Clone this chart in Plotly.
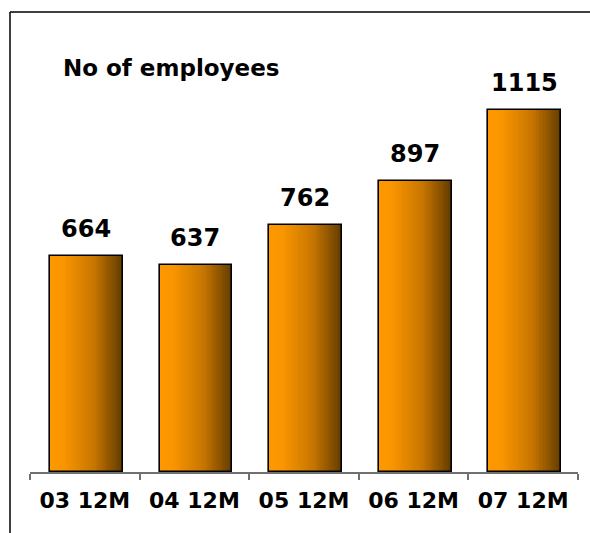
import plotly.graph_objects as go
import numpy as np

categories = ["03 12M", "04 12M", "05 12M", "06 12M", "07 12M"]
employees = [664, 637, 762, 897, 1115]
title_text = "No of employees"

# gradient stops (position across bar, rgb)
grad_pos = [0.0, 0.18, 0.6, 1.0]
grad_rgb = [(255, 153, 0), (250, 150, 0), (200, 118, 0), (98, 60, 0)]

BAR_W = 0.665
N = 40
FONT = "DejaVu Sans"

def color_at(t):
    r = np.interp(t, grad_pos, [c[0] for c in grad_rgb])
    g = np.interp(t, grad_pos, [c[1] for c in grad_rgb])
    b = np.interp(t, grad_pos, [c[2] for c in grad_rgb])
    return f"rgb({int(r)},{int(g)},{int(b)})"

fig = go.Figure()
sw = BAR_W / N
shift = 0.015
for k in range(N):
    t = (k + 0.5) / N
    fig.add_trace(go.Bar(
        x=categories, y=employees,
        width=sw * (1.6 if k < N - 1 else 1.0),
        offset=-BAR_W / 2 + shift + k * sw,
        marker=dict(color=color_at(t), line=dict(width=0)),
        hoverinfo="skip", showlegend=False,
    ))

# outline
fig.add_trace(go.Bar(
    x=categories, y=employees, width=BAR_W, offset=-BAR_W / 2 + shift,
    marker=dict(color="rgba(0,0,0,0)", line=dict(color="black", width=1.6)),
    showlegend=False,
))

for c, v in zip(categories, employees):
    fig.add_annotation(x=c, y=v, text=f"<b>{v}</b>", showarrow=False,
                       yanchor="bottom", yshift=11, xshift=1,
                       font=dict(family=FONT, size=24, color="black"))

fig.add_annotation(xref="paper", yref="paper", x=0.056, y=0.878,
                   xanchor="left", yanchor="middle", showarrow=False,
                   text=f"<b>{title_text}</b>",
                   font=dict(family=FONT, size=23, color="black"))

# frame lines (left and top)
fig.add_shape(type="line", xref="paper", yref="paper",
              x0=-0.0365, x1=-0.0365, y0=1.0, y1=-0.14,
              line=dict(color="black", width=1.5))
fig.add_shape(type="line", xref="paper", yref="paper",
              x0=-0.0365, x1=1.03, y0=1.0, y1=1.0,
              line=dict(color="black", width=1.5))

fig.update_layout(
    width=590, height=533,
    margin=dict(l=30, r=12, t=12, b=61),
    barmode="overlay", bargap=0,
    paper_bgcolor="white", plot_bgcolor="white",
    font=dict(family=FONT, color="black"),
    xaxis=dict(
        type="category", range=[-0.5, 4.5],
        showline=True, linecolor="#707070", linewidth=1.5,
        ticks="outside", ticklen=6, tickcolor="#707070", tickwidth=1.5,
        tickson="boundaries", showgrid=False, ticklabelstandoff=8,
        tickfont=dict(family=FONT, size=22, color="black", weight="bold"),
    ),
    yaxis=dict(range=[0, 1417], visible=False, showgrid=False, zeroline=False),
)

fig.write_html("out.html")
